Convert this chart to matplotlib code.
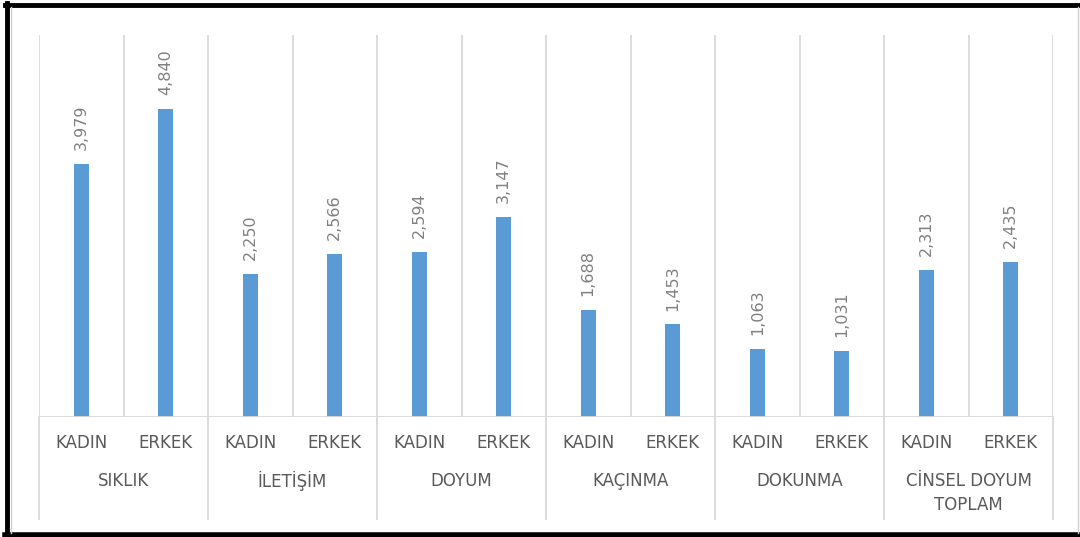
import matplotlib
matplotlib.use("Agg")
import matplotlib.pyplot as plt
from matplotlib.lines import Line2D
import matplotlib.transforms as mtransforms

groups = ["SIKLIK", "İLETİŞİM", "DOYUM", "KAÇINMA", "DOKUNMA", "CİNSEL DOYUM\nTOPLAM"]
subcats = ["KADIN", "ERKEK"]
values = [3.979, 4.840, 2.250, 2.566, 2.594, 3.147, 1.688, 1.453, 1.063, 1.031, 2.313, 2.435]
value_labels = ["3,979", "4,840", "2,250", "2,566", "2,594", "3,147",
                "1,688", "1,453", "1,063", "1,031", "2,313", "2,435"]

W, H = 1080, 537
fig = plt.figure(figsize=(W / 100, H / 100), dpi=100)
fig.patch.set_facecolor("white")

left, right, bottom, top = 39 / W, 1053 / W, 1 - 417 / H, 1 - 35 / H
ax = fig.add_axes([left, bottom, right - left, top - bottom])

n = len(values)
x = list(range(n))
ax.bar(x, values, width=0.18, color="#5B9BD5", zorder=3)
ax.set_xlim(-0.5, n - 0.5)
ax.set_ylim(0, 6)

for xi, v, lab in zip(x, values, value_labels):
    ax.annotate(lab, (xi, v), xytext=(0, 10), textcoords="offset points",
                rotation=90, ha="center", va="bottom", fontsize=11.5,
                color="#808080", family="DejaVu Sans")

grid_c = "#d9d9d9"
for b in range(n + 1):
    ax.axvline(b - 0.5, color=grid_c, lw=1.3, zorder=1)

for s in ax.spines.values():
    s.set_visible(False)
ax.set_xticks([])
ax.set_yticks([])
ax.axhline(0, color=grid_c, lw=1.3, zorder=4)

trans = mtransforms.blended_transform_factory(ax.transData, fig.transFigure)
txt_c = "#595959"
y_sub = 1 - 443 / H
y_grp = 1 - 481 / H
line_gap = 24 / H
y_sep_bottom = 1 - 519 / H
for i, xi in enumerate(x):
    ax.text(xi, y_sub, subcats[i % 2], transform=trans, ha="center", va="center",
            fontsize=12, color=txt_c)
for g, name in enumerate(groups):
    for k, part in enumerate(name.split("\n")):
        ax.text(2 * g + 0.5, y_grp - k * line_gap, part, transform=trans,
                ha="center", va="center", fontsize=12, color=txt_c)
for g in range(len(groups) + 1):
    xs = 2 * g - 0.5
    ax.add_line(Line2D([xs, xs], [bottom, y_sep_bottom], transform=trans,
                       color=grid_c, lw=1.3, clip_on=False))

# figure border
fig.add_artist(Line2D([7 / W, 7 / W], [0, 1 - 3 / H], transform=fig.transFigure, color="black", lw=3.5))
fig.add_artist(Line2D([5 / W, 1], [1 - 5 / H, 1 - 5 / H], transform=fig.transFigure, color="black", lw=3.5))
fig.add_artist(Line2D([5 / W, 1], [2 / H, 2 / H], transform=fig.transFigure, color="black", lw=4))
fig.add_artist(Line2D([1078 / W, 1078 / W], [4 / H, 1 - 7 / H], transform=fig.transFigure, color="#d0d0d0", lw=1))
fig.add_artist(Line2D([11 / W, 11 / W], [4 / H, 1 - 7 / H], transform=fig.transFigure, color="#d0d0d0", lw=1))

fig.savefig("out.png", dpi=100)
